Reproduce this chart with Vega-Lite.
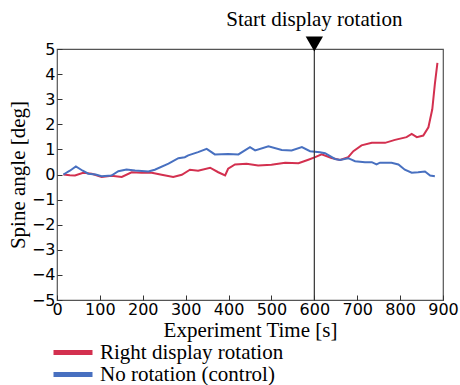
{
  "$schema": "https://vega.github.io/schema/vega-lite/v6.json",
  "width": 386,
  "height": 251,
  "autosize": "none",
  "padding": {"left": 57, "top": 49, "right": 17, "bottom": 85},
  "background": "white",
  "config": {
    "view": {"stroke": "#555555", "strokeWidth": 1.2},
    "axis": {
      "grid": false,
      "domain": false,
      "ticks": true,
      "tickSize": -5,
      "tickWidth": 1,
      "tickColor": "#333333",
      "zindex": 1,
      "labelOverlap": false,
      "labelFlush": false,
      "labelFont": "DejaVu Sans",
      "labelFontSize": 16,
      "labelColor": "black",
      "titleFont": "Liberation Serif",
      "titleFontSize": 21,
      "titleFontWeight": "normal",
      "titleColor": "black"
    }
  },
  "datasets": {
    "series": [
      {"t": 15, "v": 0, "s": "Right display rotation"},
      {"t": 30, "v": -0.03, "s": "Right display rotation"},
      {"t": 42, "v": -0.04, "s": "Right display rotation"},
      {"t": 61, "v": 0.07, "s": "Right display rotation"},
      {"t": 81, "v": 0.03, "s": "Right display rotation"},
      {"t": 104, "v": -0.1, "s": "Right display rotation"},
      {"t": 127, "v": -0.05, "s": "Right display rotation"},
      {"t": 151, "v": -0.1, "s": "Right display rotation"},
      {"t": 174, "v": 0.09, "s": "Right display rotation"},
      {"t": 197, "v": 0.07, "s": "Right display rotation"},
      {"t": 221, "v": 0.07, "s": "Right display rotation"},
      {"t": 244, "v": -0.01, "s": "Right display rotation"},
      {"t": 271, "v": -0.1, "s": "Right display rotation"},
      {"t": 291, "v": -0.01, "s": "Right display rotation"},
      {"t": 310, "v": 0.19, "s": "Right display rotation"},
      {"t": 329, "v": 0.15, "s": "Right display rotation"},
      {"t": 357, "v": 0.27, "s": "Right display rotation"},
      {"t": 376, "v": 0.09, "s": "Right display rotation"},
      {"t": 392, "v": -0.04, "s": "Right display rotation"},
      {"t": 399, "v": 0.23, "s": "Right display rotation"},
      {"t": 415, "v": 0.4, "s": "Right display rotation"},
      {"t": 442, "v": 0.43, "s": "Right display rotation"},
      {"t": 469, "v": 0.36, "s": "Right display rotation"},
      {"t": 500, "v": 0.39, "s": "Right display rotation"},
      {"t": 532, "v": 0.47, "s": "Right display rotation"},
      {"t": 563, "v": 0.45, "s": "Right display rotation"},
      {"t": 586, "v": 0.59, "s": "Right display rotation"},
      {"t": 602, "v": 0.69, "s": "Right display rotation"},
      {"t": 617, "v": 0.8, "s": "Right display rotation"},
      {"t": 640, "v": 0.66, "s": "Right display rotation"},
      {"t": 660, "v": 0.58, "s": "Right display rotation"},
      {"t": 679, "v": 0.69, "s": "Right display rotation"},
      {"t": 691, "v": 0.93, "s": "Right display rotation"},
      {"t": 710, "v": 1.16, "s": "Right display rotation"},
      {"t": 734, "v": 1.26, "s": "Right display rotation"},
      {"t": 765, "v": 1.26, "s": "Right display rotation"},
      {"t": 788, "v": 1.38, "s": "Right display rotation"},
      {"t": 815, "v": 1.49, "s": "Right display rotation"},
      {"t": 827, "v": 1.62, "s": "Right display rotation"},
      {"t": 839, "v": 1.49, "s": "Right display rotation"},
      {"t": 854, "v": 1.55, "s": "Right display rotation"},
      {"t": 866, "v": 1.88, "s": "Right display rotation"},
      {"t": 870, "v": 2.2, "s": "Right display rotation"},
      {"t": 875, "v": 2.6, "s": "Right display rotation"},
      {"t": 881, "v": 3.6, "s": "Right display rotation"},
      {"t": 887, "v": 4.45, "s": "Right display rotation"},
      {"t": 15, "v": 0, "s": "No rotation (control)"},
      {"t": 30, "v": 0.15, "s": "No rotation (control)"},
      {"t": 44, "v": 0.32, "s": "No rotation (control)"},
      {"t": 60, "v": 0.15, "s": "No rotation (control)"},
      {"t": 73, "v": 0.03, "s": "No rotation (control)"},
      {"t": 90, "v": 0.0, "s": "No rotation (control)"},
      {"t": 104, "v": -0.07, "s": "No rotation (control)"},
      {"t": 127, "v": -0.04, "s": "No rotation (control)"},
      {"t": 143, "v": 0.13, "s": "No rotation (control)"},
      {"t": 162, "v": 0.2, "s": "No rotation (control)"},
      {"t": 182, "v": 0.16, "s": "No rotation (control)"},
      {"t": 213, "v": 0.12, "s": "No rotation (control)"},
      {"t": 228, "v": 0.19, "s": "No rotation (control)"},
      {"t": 260, "v": 0.43, "s": "No rotation (control)"},
      {"t": 283, "v": 0.65, "s": "No rotation (control)"},
      {"t": 298, "v": 0.69, "s": "No rotation (control)"},
      {"t": 306, "v": 0.76, "s": "No rotation (control)"},
      {"t": 329, "v": 0.89, "s": "No rotation (control)"},
      {"t": 349, "v": 1.02, "s": "No rotation (control)"},
      {"t": 368, "v": 0.8, "s": "No rotation (control)"},
      {"t": 399, "v": 0.82, "s": "No rotation (control)"},
      {"t": 423, "v": 0.8, "s": "No rotation (control)"},
      {"t": 450, "v": 1.09, "s": "No rotation (control)"},
      {"t": 462, "v": 0.96, "s": "No rotation (control)"},
      {"t": 493, "v": 1.12, "s": "No rotation (control)"},
      {"t": 524, "v": 0.98, "s": "No rotation (control)"},
      {"t": 547, "v": 0.96, "s": "No rotation (control)"},
      {"t": 571, "v": 1.09, "s": "No rotation (control)"},
      {"t": 590, "v": 0.93, "s": "No rotation (control)"},
      {"t": 613, "v": 0.89, "s": "No rotation (control)"},
      {"t": 625, "v": 0.85, "s": "No rotation (control)"},
      {"t": 648, "v": 0.62, "s": "No rotation (control)"},
      {"t": 660, "v": 0.58, "s": "No rotation (control)"},
      {"t": 679, "v": 0.65, "s": "No rotation (control)"},
      {"t": 695, "v": 0.53, "s": "No rotation (control)"},
      {"t": 718, "v": 0.49, "s": "No rotation (control)"},
      {"t": 734, "v": 0.49, "s": "No rotation (control)"},
      {"t": 745, "v": 0.4, "s": "No rotation (control)"},
      {"t": 753, "v": 0.47, "s": "No rotation (control)"},
      {"t": 780, "v": 0.47, "s": "No rotation (control)"},
      {"t": 796, "v": 0.4, "s": "No rotation (control)"},
      {"t": 811, "v": 0.19, "s": "No rotation (control)"},
      {"t": 827, "v": 0.07, "s": "No rotation (control)"},
      {"t": 842, "v": 0.09, "s": "No rotation (control)"},
      {"t": 858, "v": 0.12, "s": "No rotation (control)"},
      {"t": 870, "v": -0.04, "s": "No rotation (control)"},
      {"t": 881, "v": -0.07, "s": "No rotation (control)"}
    ],
    "event": [
      {"t": 600, "v": 5, "label": "Start display rotation"}
    ]
  },
  "layer": [
    {
      "data": {"name": "series"},
      "mark": {"type": "line", "strokeWidth": 2, "clip": false},
      "encoding": {
        "x": {
          "field": "t", "type": "quantitative",
          "scale": {"domain": [0, 900], "nice": false},
          "axis": {"title": "Experiment Time [s]", "values": [0, 100, 200, 300, 400, 500, 600, 700, 800, 900], "labelOverlap": false, "labelFlush": false, "labelPadding": 6, "titlePadding": 2}
        },
        "y": {
          "field": "v", "type": "quantitative",
          "scale": {"domain": [-5, 5], "nice": false},
          "axis": {"title": "Spine angle [deg]", "values": [-5, -4, -3, -2, -1, 0, 1, 2, 3, 4, 5], "tickCount": 11, "labelOverlap": false, "labelFlush": false, "labelPadding": 7, "titlePadding": 3}
        },
        "color": {
          "field": "s", "type": "nominal",
          "scale": {"domain": ["Right display rotation", "No rotation (control)"], "range": ["#d3304f", "#4870c0"]},
          "legend": {
            "title": null,
            "orient": "none",
            "legendX": -6,
            "legendY": 293,
            "symbolType": "stroke",
            "symbolSize": 1521,
            "symbolStrokeWidth": 5,
            "clipHeight": 21,
            "rowPadding": 0,
            "labelFont": "Liberation Serif",
            "labelFontSize": 21,
            "labelColor": "black",
            "labelOffset": 5,
            "labelLimit": 300
          }
        }
      }
    },
    {
      "data": {"name": "event"},
      "mark": {"type": "rule", "color": "#333333", "strokeWidth": 1.2},
      "encoding": {"x": {"field": "t", "type": "quantitative"}}
    },
    {
      "data": {"name": "event"},
      "mark": {"type": "point", "shape": "triangle-down", "filled": true, "color": "black", "size": 300, "opacity": 1, "yOffset": -5, "clip": false},
      "encoding": {
        "x": {"field": "t", "type": "quantitative"},
        "y": {"field": "v", "type": "quantitative"}
      }
    },
    {
      "data": {"name": "event"},
      "mark": {"type": "text", "font": "Liberation Serif", "fontSize": 21, "color": "black", "yOffset": -29, "baseline": "middle", "align": "center", "clip": false},
      "encoding": {
        "x": {"field": "t", "type": "quantitative"},
        "y": {"field": "v", "type": "quantitative"},
        "text": {"field": "label"}
      }
    }
  ]
}
